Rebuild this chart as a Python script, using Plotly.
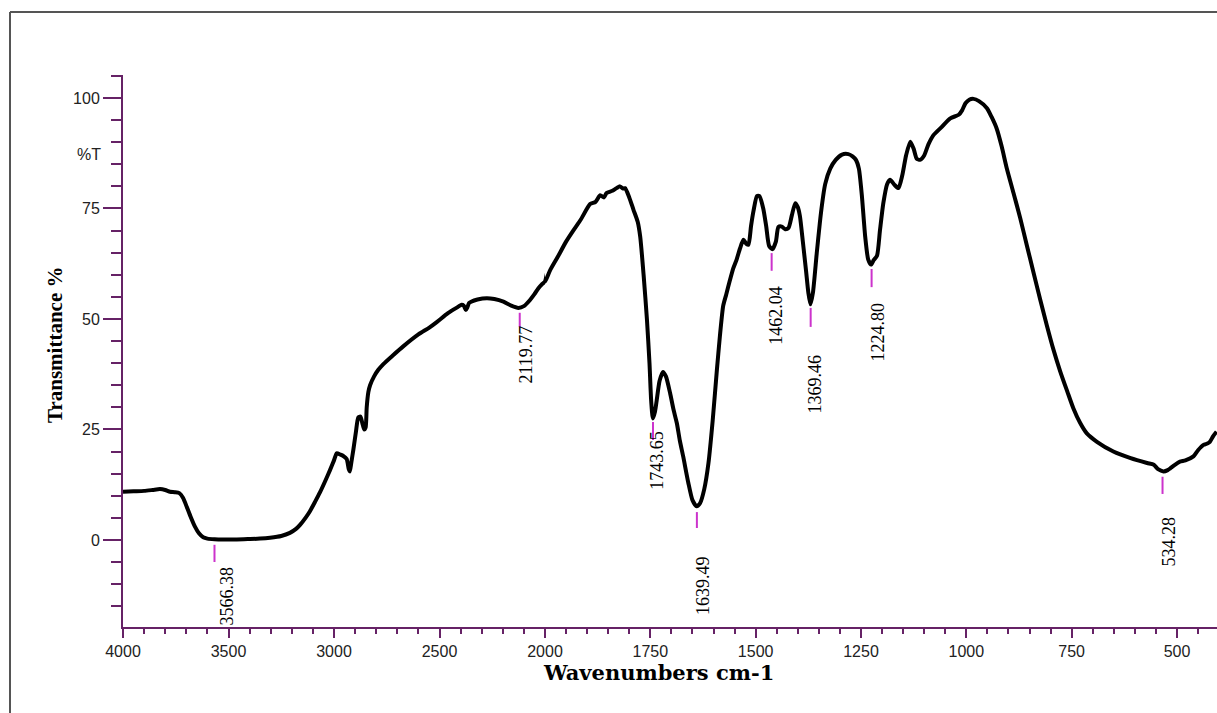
import plotly.graph_objects as go

# ---------------- data ----------------
wavenumber = [
    4000, 3950, 3900, 3860, 3825, 3800, 3777, 3755, 3733, 3715, 3698, 3680, 3659, 3640,
    3620, 3600, 3566, 3520, 3461, 3400, 3350, 3303, 3250, 3209, 3180, 3161, 3135, 3114,
    3090, 3066, 3040, 3019, 3000, 2987, 2970, 2956, 2940, 2930, 2925, 2918, 2908, 2896,
    2885, 2875, 2866, 2857, 2850, 2845, 2837, 2829, 2810, 2790, 2766, 2720, 2672, 2600,
    2550, 2513, 2460, 2420, 2395, 2385, 2375, 2368, 2360, 2350, 2320, 2276, 2240, 2197,
    2160, 2126, 2100, 2071, 2050, 2032, 2015, 2000,
    1988, 1970, 1950, 1933, 1915, 1893, 1880, 1869, 1860, 1854, 1840, 1830, 1822, 1815,
    1810, 1800, 1790, 1780, 1774, 1766, 1758, 1752, 1748, 1744, 1739, 1735, 1728, 1720,
    1713, 1703, 1695, 1687, 1680, 1672, 1660, 1650, 1640, 1632, 1622, 1612, 1602, 1592,
    1585, 1577, 1570, 1561, 1553, 1545, 1537, 1529, 1522, 1517, 1511, 1505, 1497, 1491,
    1482, 1475, 1468, 1460, 1452, 1446, 1438, 1430, 1422, 1414, 1406, 1400, 1395, 1388,
    1380, 1375, 1370, 1364, 1355, 1345, 1335, 1323, 1310, 1295, 1280, 1270, 1262, 1255,
    1248, 1240, 1233, 1226, 1220, 1212, 1205, 1197, 1188, 1181, 1170, 1161, 1152, 1143,
    1133, 1125, 1118, 1110, 1100, 1090, 1078, 1060, 1038, 1018, 1010, 1002, 993, 983,
    970, 951, 940, 928, 916, 904, 888, 872, 856, 841, 825, 809, 793, 777, 760, 746, 730,
    714, 690, 651, 610, 571, 555, 545, 532, 522, 516, 505, 493, 480, 461, 450, 437, 428,
    422, 414, 406,
]
transmittance = [
    10.9, 11.0, 11.1, 11.3, 11.5, 11.3, 10.9, 10.8, 10.6, 9.5, 7.5, 5.3, 3.0, 1.5,
    0.6, 0.3, 0.15, 0.1, 0.1, 0.2, 0.3, 0.5, 0.9, 1.6, 2.5, 3.4, 5.0, 6.5,
    8.6, 10.8, 13.5, 15.8, 18.0, 19.6, 19.3, 19.0, 18.3, 16.0, 15.5, 17.5, 20.5, 24.5,
    27.7, 27.9, 26.5, 25.0, 25.5, 30.0, 33.5, 35.0, 37.0, 38.5, 39.8, 41.8, 43.8, 46.5,
    48.0, 49.3, 51.3, 52.5, 53.2, 53.0, 52.0, 52.6, 53.6, 53.9, 54.4, 54.7, 54.5, 53.9,
    53.0, 52.5, 52.9, 54.3, 55.6, 56.9, 57.8, 58.5,
    61.0, 64.0, 67.5, 70.0, 72.5, 76.0, 76.5, 78.0, 77.5, 78.5, 79.0, 79.6, 80.0, 79.5,
    79.6, 77.5, 74.7, 72.0, 68.6, 60.0, 49.8, 40.0, 31.5, 27.5, 29.0, 31.5, 36.0, 38.0,
    37.0, 33.2, 29.5, 26.4, 22.5, 18.9, 13.0, 9.0, 7.6, 8.3, 11.5, 17.4, 27.0, 38.5,
    46.0, 53.0, 55.5, 58.8, 61.5, 63.5, 66.0, 67.9, 67.0, 66.8, 71.0, 74.5, 77.8, 77.8,
    75.0, 71.0, 66.5, 65.8, 67.5, 70.8, 70.9, 70.3, 70.6, 73.5, 76.2, 75.3, 73.3, 67.5,
    60.5, 56.0, 53.3, 56.0, 64.9, 74.0, 80.5, 84.0, 86.0, 87.2, 87.3, 86.8, 86.0, 84.0,
    78.0, 68.6, 63.5, 62.3, 63.3, 64.3, 70.0, 76.2, 80.5, 81.5, 80.3, 79.6, 82.5, 87.0,
    90.1, 88.5, 86.3, 86.0, 87.0, 89.5, 91.6, 93.3, 95.4, 96.2, 97.2, 98.8, 99.6, 99.8,
    99.3, 97.7, 95.7, 93.1, 89.0, 84.1, 78.5, 72.8, 66.5, 60.7, 54.5, 48.6, 43.0, 38.1, 33.5, 29.8, 26.5,
    24.1, 22.2, 20.0, 18.5, 17.4, 17.0, 16.0, 15.5, 15.8, 16.2, 17.0, 17.7, 18.0, 18.9, 20.3, 21.5, 21.8,
    22.2, 23.5, 24.5,
]

peak_wavenumbers = [3566.38, 2119.77, 1743.65, 1639.49, 1462.04, 1369.46, 1224.80, 534.28]
peak_labels = ["3566.38", "2119.77", "1743.65", "1639.49", "1462.04", "1369.46", "1224.80", "534.28"]

y_tick_values = [0, 25, 50, 75, 100]
x_ticks_high = [4000, 3500, 3000, 2500]
x_ticks_low = [2000, 1750, 1500, 1250, 1000, 750, 500]

# ---------------- styling / placement ----------------
peak_marker_y = [(-1.1, -5.0), (51.4, 48.2), (26.7, 22.6), (6.3, 2.7),
                 (64.9, 60.9), (52.5, 48.2), (61.3, 57.2), (14.3, 10.4)]
peak_label_y = [-12.7, 41.9, 17.9, -10.2, 50.9, 35.3, 47.1, -0.45]
peak_label_dx = [13, 6, 4, 6, 4, 4, 6, 6]

AXIS_COL = "#662266"
PEAK_COL = "#cc33cc"
SPLIT = 422 / 1094  # fraction of plot width used for 4000-2000

W, H = 1217, 713
PLOT_L, PLOT_T, PLOT_W, PLOT_H = 123, 75, 1094, 552


def px_x(px):
    return (px - PLOT_L) / PLOT_W


def px_y(py):
    return (PLOT_T + PLOT_H - py) / PLOT_H


# segments overlap slightly past 2000 so the join is seamless (clipped by each axis)
hi_w = [w for w in wavenumber if w >= 1970]
hi_t = [t for w, t in zip(wavenumber, transmittance) if w >= 1970]
lo_w = [w for w in wavenumber if w <= 2032]
lo_t = [t for w, t in zip(wavenumber, transmittance) if w <= 2032]

line_style = dict(color="black", width=4, shape="spline", smoothing=0.6)
fig = go.Figure()
fig.add_trace(go.Scatter(x=hi_w, y=hi_t, mode="lines", line=line_style,
                         xaxis="x", yaxis="y", showlegend=False, hoverinfo="skip"))
fig.add_trace(go.Scatter(x=lo_w, y=lo_t, mode="lines", line=line_style,
                         xaxis="x2", yaxis="y", showlegend=False, hoverinfo="skip"))

tickfont = dict(family="Liberation Sans, Arial", size=16, color="#222222")
common_x = dict(showline=True, linecolor=AXIS_COL, linewidth=2, ticks="outside",
                tickcolor=AXIS_COL, tickwidth=2, ticklen=9, showgrid=False,
                zeroline=False, tickfont=tickfont, anchor="y")

fig.update_layout(
    width=W, height=H,
    margin=dict(l=PLOT_L, r=W - PLOT_L - PLOT_W, t=PLOT_T, b=H - PLOT_T - PLOT_H, pad=0),
    paper_bgcolor="white", plot_bgcolor="white",
    xaxis=dict(domain=[0, SPLIT], range=[4000, 2000], tickmode="array",
               tickvals=x_ticks_high, ticktext=[str(v) for v in x_ticks_high],
               minor=dict(dtick=100, tick0=0, ticks="outside", ticklen=5,
                          tickcolor=AXIS_COL, tickwidth=2),
               **common_x),
    xaxis2=dict(domain=[SPLIT, 1], range=[2000, 405], tickmode="array",
                tickvals=x_ticks_low, ticktext=[str(v) for v in x_ticks_low],
                minor=dict(dtick=50, tick0=0, ticks="outside", ticklen=5,
                           tickcolor=AXIS_COL, tickwidth=2),
                **common_x),
    yaxis=dict(domain=[0, 1], range=[-19.7, 105.2], tickmode="array",
               tickvals=y_tick_values, ticktext=[str(v) for v in y_tick_values],
               showline=True, linecolor=AXIS_COL, linewidth=2, ticks="outside",
               tickcolor=AXIS_COL, tickwidth=2, ticklen=18, showgrid=False,
               zeroline=False, tickfont=tickfont, anchor="x",
               minor=dict(dtick=5, tick0=0, ticks="outside", ticklen=10,
                          tickcolor=AXIS_COL, tickwidth=2)),
)

shapes = []
annotations = []
for w, lab, (y0, y1), ly, dx in zip(peak_wavenumbers, peak_labels, peak_marker_y,
                                    peak_label_y, peak_label_dx):
    xr = "x" if w >= 2000 else "x2"
    shapes.append(dict(type="line", xref=xr, yref="y", x0=w, x1=w, y0=y0, y1=y1,
                       line=dict(color=PEAK_COL, width=2)))
    annotations.append(dict(xref=xr, yref="y", x=w, y=ly, text=lab, showarrow=False,
                            textangle=-90, xanchor="center", yanchor="middle", xshift=dx,
                            font=dict(family="Liberation Serif, Times New Roman", size=18,
                                      color="black")))

# outer frame (left and top edges)
shapes.append(dict(type="line", xref="paper", yref="paper", x0=px_x(10), x1=px_x(10),
                   y0=px_y(720), y1=px_y(12), line=dict(color="#555555", width=2)))
shapes.append(dict(type="line", xref="paper", yref="paper", x0=px_x(10), x1=px_x(1230),
                   y0=px_y(12), y1=px_y(12), line=dict(color="#555555", width=2)))

# %T label
annotations.append(dict(xref="paper", yref="y", x=px_x(103), y=87.2, text="%T",
                        showarrow=False, xanchor="right", yanchor="middle",
                        font=dict(family="Liberation Sans, Arial", size=16, color="#222222")))
# axis titles
annotations.append(dict(xref="paper", yref="paper", x=px_x(55), y=px_y(345),
                        text="<b>Transmittance %</b>", showarrow=False, textangle=-90,
                        xanchor="center", yanchor="middle",
                        font=dict(family="Liberation Serif, Times New Roman", size=21,
                                  color="black")))
annotations.append(dict(xref="paper", yref="paper", x=px_x(658), y=px_y(672),
                        text="<b>Wavenumbers cm-1</b>", showarrow=False,
                        xanchor="center", yanchor="middle",
                        font=dict(family="DejaVu Serif", size=21, color="black")))

fig.update_layout(shapes=shapes, annotations=annotations)
fig.write_html(
    "out.html",
    config={"displayModeBar": False},
    post_script="document.body.style.margin='0';document.body.style.overflow='hidden';"
                "document.documentElement.style.overflow='hidden';",
)
